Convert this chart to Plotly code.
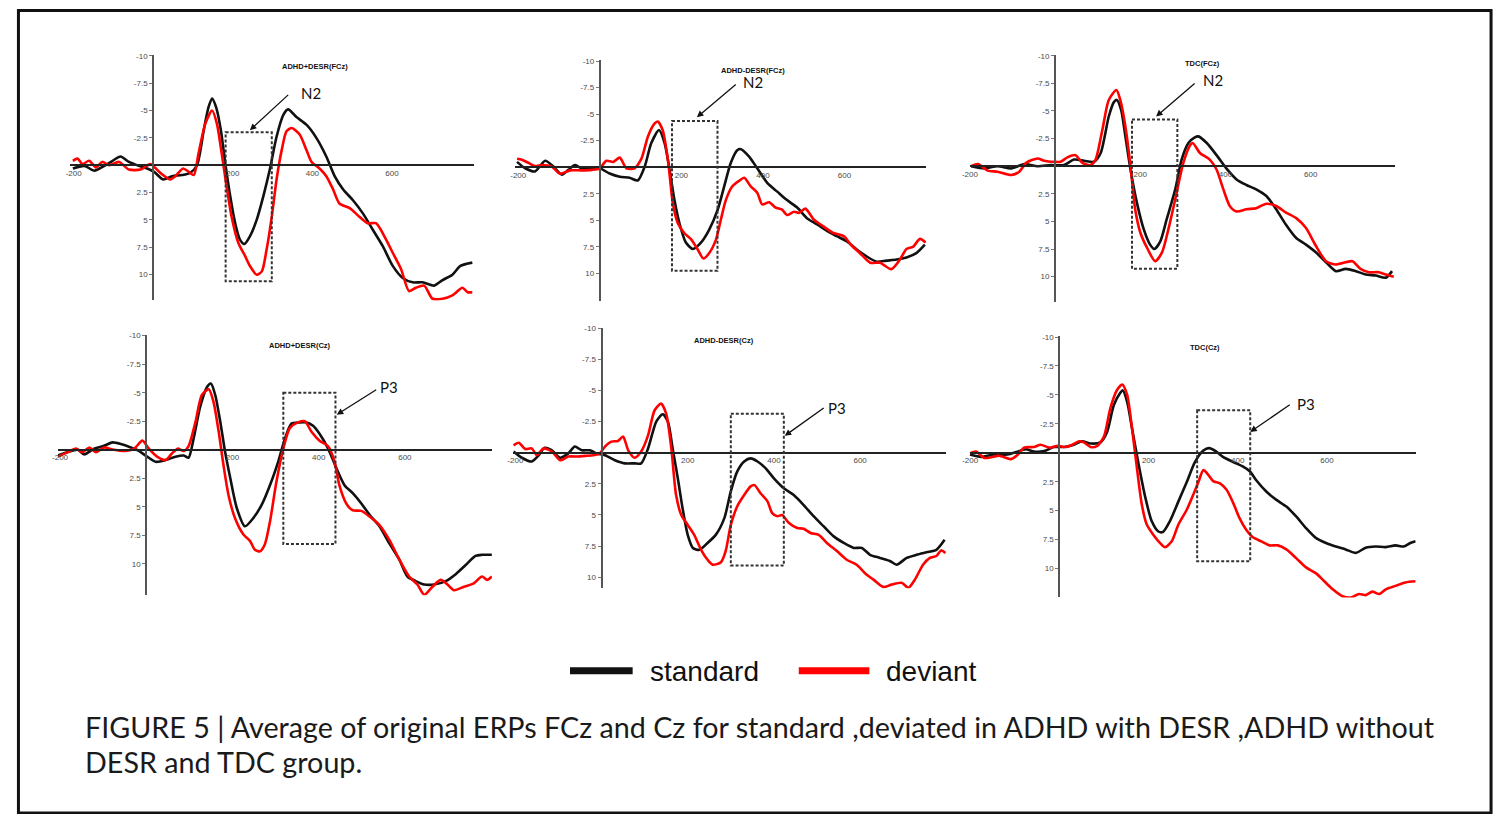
import plotly.graph_objects as go

W, H = 1501, 814

# ---------------- data (time in ms, amplitude in microvolts) ----------------
p1_std_t = [-202,-173,-148,-123,-102,-82,-61,-36,-15,2,25,47,72,93,110,127,139,148,158,170,181,192,206,218,229,243,260,277,293,310,327,339,360,385,410,435,456,477,502,527,552,577,602,627,652,677,706,727,752,772,802]
p1_std_v = [0.3,0.06,0.5,0.06,-0.4,-0.8,-0.3,0.06,0.3,0.6,1.3,1.0,0.9,0.7,0,-3.2,-5.3,-6.1,-5.3,-3.2,-0.2,2.5,5.3,6.8,7.2,6.5,5.0,2.8,0.4,-2.6,-4.6,-5.1,-4.4,-3.7,-2.5,-0.8,1.0,2.2,3.2,4.4,5.9,7.4,9.2,10.3,10.7,10.7,11.0,10.5,10.0,9.2,8.9]
p1_dev_t = [-202,-190,-178,-161,-144,-128,-111,-86,-61,-32,-7,18,43,56,75,89,102,114,131,148,160,172,183,197,214,231,243,260,273,285,298,310,323,335,348,368,385,398,418,435,452,468,493,518,539,560,581,602,623,643,660,681,702,727,752,777,790,802]
p1_dev_v = [-0.4,-0.6,-0.1,-0.4,0.2,-0.3,0,-0.3,0.4,0.4,-0.1,0.7,1.3,1.0,0.3,0.6,0.9,-1.1,-3.8,-5.0,-3.8,-1.1,1.6,4.7,7.1,8.3,9.2,10.0,9.7,7.7,4.7,1.3,-1.4,-3.1,-3.4,-2.8,-1.4,-0.3,0.3,1.0,2.2,3.5,3.9,4.7,5.3,5.3,6.5,8.0,9.5,11.5,11.2,11.0,12.2,12.2,11.9,11.2,11.6,11.6]

p2_std_t = [-203,-183,-159,-134,-114,-93,-77,-61,-41,-20,0,24,49,73,93,110,126,145,159,171,183,195,211,228,248,268,289,305,321,337,346,366,386,411,435,459,484,508,533,557,581,606,630,654,679,703,728,752,776,797]
p2_std_v = [-0.5,0.1,0.4,-0.6,-0.06,0.7,0.25,-0.2,0.2,0.1,0.1,0.6,0.9,1.0,1.25,-0.06,-2.25,-3.5,-2.25,0.25,3.1,5.25,7.1,7.7,7.1,5.9,4.0,1.8,-0.4,-1.6,-1.7,-1.0,0.1,1.5,2.3,3.1,3.8,4.8,5.4,6.0,6.5,7.0,7.75,8.4,8.9,8.8,8.7,8.5,8.1,7.3]
p2_dev_t = [-203,-191,-175,-159,-142,-118,-98,-73,-45,-20,0,16,33,49,65,85,102,118,134,142,154,167,179,191,207,224,240,254,268,285,297,309,325,341,354,370,386,398,415,431,447,459,476,488,504,524,549,573,598,618,638,663,687,715,736,752,768,785,799]
p2_dev_v = [-0.8,-0.7,-0.4,-0.1,-0.2,-0.06,0.6,0.3,0.3,0.25,0.1,-0.6,-0.5,-0.9,0.1,0.1,-0.8,-2.9,-4.1,-4.3,-3.5,-0.7,3.4,5.25,6.2,6.8,7.75,8.6,8.1,6.8,4.9,3.1,1.8,1.3,1.0,1.8,2.4,3.5,3.3,3.8,4.0,4.5,4.2,4.3,3.9,4.9,5.6,6.2,6.5,7.4,8.1,9.0,9.0,9.6,8.7,7.7,7.5,6.75,7.1]

p3_std_t = [-197,-166,-135,-103,-72,-41,-10,21,44,68,91,107,126,138,145,155,165,177,192,208,223,233,247,262,282,297,313,328,336,356,379,402,426,449,472,496,519,542,566,589,612,636,659,682,706,729,753,776,791]
p3_std_v = [0,0.2,0,0.2,-0.2,0,-0.1,-0.1,-0.6,-0.5,-0.4,-1.2,-4.5,-5.8,-6.0,-5.1,-2.7,0.3,3.3,5.7,7.1,7.5,6.8,4.8,2.1,-0.6,-2.1,-2.6,-2.7,-2.1,-1.0,0.2,1.2,1.7,2.1,2.7,3.9,5.3,6.5,7.1,7.8,8.7,9.5,9.3,9.5,9.8,9.9,10.1,9.5]
p3_dev_t = [-197,-181,-158,-135,-103,-84,-68,-41,-26,-2,13,29,48,64,83,95,111,126,144,153,165,177,188,200,216,235,251,266,282,301,317,323,340,363,379,395,410,426,449,472,496,519,542,566,589,612,636,659,682,698,717,737,760,776,795]
p3_dev_v = [0,-0.2,0.4,0.5,0.8,0.5,-0.3,-0.7,-0.5,-0.4,-0.4,-0.8,-1.0,-0.3,-0.1,-0.6,-3.3,-6.0,-6.9,-6.0,-3.6,0,3.9,6.0,7.4,8.6,7.8,5.7,3.0,-0.3,-1.9,-2.1,-1.2,-0.6,0.3,2.1,3.6,4.1,3.9,3.8,3.4,3.6,4.2,4.7,5.6,7.2,8.6,8.9,8.7,8.6,9.3,9.6,9.6,9.8,10.0]

p4_std_t = [-205,-182,-159,-144,-121,-98,-78,-59,-36,-17,2,22,45,68,87,98,110,125,141,150,160,172,183,195,210,229,248,268,287,306,322,337,356,372,387,402,422,441,460,479,499,518,541,564,587,606,625,645,668,695,718,741,764,779,802]
p4_std_v = [0.5,0.2,0,0.4,-0.1,-0.35,-0.65,-0.5,-0.2,0.1,0.6,1.05,0.9,0.6,0.5,0.7,-1.0,-3.75,-5.5,-5.8,-4.8,-2.4,0.2,2.5,5.1,6.7,6.0,4.8,3.1,1.05,-1.0,-2.3,-2.4,-2.4,-2.1,-1.4,-0.1,1.6,3.1,3.8,4.7,5.7,6.7,8.2,9.6,11.1,11.5,11.8,11.8,11.5,10.9,10.1,9.3,9.2,9.2]
p4_dev_t = [-205,-182,-163,-148,-132,-117,-98,-75,-52,-28,-9,6,25,45,60,73,87,98,114,129,145,156,168,179,191,206,225,241,252,264,275,287,302,318,333,352,368,383,402,422,437,448,464,479,499,518,541,564,587,610,629,645,664,683,699,714,737,760,779,791,802]
p4_dev_v = [0.6,0.2,-0.1,0.2,-0.2,0.2,-0.2,0,0.1,-0.1,-0.8,-0.1,0.6,0.9,0.3,-0.1,0.1,-0.3,-2.4,-4.8,-5.3,-4.2,-1.6,1.3,4.0,6.0,7.4,8.0,8.75,8.9,8.3,6.3,2.8,-0.1,-1.9,-2.4,-2.5,-1.6,-0.8,-0.3,1.05,3.1,4.7,5.3,5.35,5.85,6.6,7.9,9.6,11.1,11.8,12.7,12.0,11.4,11.8,12.3,12.0,11.7,11.1,11.4,11.1]

p5_std_t = [-204,-185,-162,-146,-132,-115,-96,-77,-62,-46,-27,-12,8,31,54,77,92,108,127,142,154,165,177,188,200,212,227,246,265,285,300,315,331,346,362,381,400,423,446,469,492,515,538,562,585,604,623,646,669,685,708,731,754,777,796]
p5_std_v = [-0.1,0.4,0.7,0.2,-0.4,-0.2,0.4,0.05,-0.5,-0.2,-0.2,0.05,0.2,0.6,0.85,0.85,0.85,-0.35,-2.5,-3.1,-2.5,-0.35,2.05,4.45,6.6,7.65,7.8,7.25,6.6,5.25,3.1,1.5,0.7,0.45,0.7,1.25,2.05,2.85,3.4,4.2,5.1,5.9,6.7,7.25,7.65,7.65,8.2,8.45,8.7,9.0,8.45,8.2,8.0,7.8,7.0]
p5_dev_t = [-204,-192,-177,-162,-150,-135,-115,-96,-77,-54,-38,-19,-4,8,23,38,50,62,77,92,108,123,138,150,162,173,185,200,215,231,246,258,277,288,300,315,331,346,355,369,385,396,408,419,435,454,469,485,504,523,546,569,592,612,631,654,673,696,712,727,746,762,777,788,798]
p5_dev_v = [-0.6,-0.8,-0.3,-0.35,0.2,-0.35,-0.1,0.6,0.3,0.3,0.25,0.2,0.05,-0.5,-0.9,-0.95,-1.3,-0.2,0.4,-0.1,-1.4,-3.4,-3.95,-3.15,-0.35,3.4,5.0,5.8,6.6,7.8,8.6,9.0,8.8,7.9,5.8,4.3,3.4,2.7,2.6,3.25,3.9,4.85,5.1,5.0,5.65,6.05,6.1,6.45,6.6,7.25,7.9,8.6,9.0,9.7,10.2,10.8,10.6,10.45,10.85,10.2,9.0,8.45,8.3,7.85,8.05]

p6_std_t = [-201,-175,-146,-116,-94,-75,-57,-34,-12,10,33,51,70,92,107,122,137,142,152,163,178,193,207,222,232,248,267,286,304,323,336,352,367,390,412,427,442,464,486,509,531,553,575,598,620,642,665,687,709,732,754,772,787,799]
p6_std_v = [0.15,0.35,0.15,0.15,-0.1,-0.3,-0.1,-0.15,-0.5,-0.5,-0.7,-1.0,-0.8,-0.9,-1.8,-4.1,-5.2,-5.4,-4.4,-2.1,1.05,3.9,5.9,6.8,6.85,5.9,4.2,2.5,0.8,-0.2,-0.4,-0.1,0.35,0.8,1.2,1.6,2.4,3.35,4.05,4.65,5.5,6.5,7.35,7.8,8.1,8.35,8.65,8.2,8.1,8.15,8.0,8.1,7.8,7.65]
p6_dev_t = [-201,-187,-168,-149,-135,-109,-94,-79,-57,-42,-23,-4,14,29,44,55,70,85,100,114,129,141,152,163,174,185,196,211,226,237,252,267,286,300,312,323,334,345,360,375,390,404,419,434,453,471,490,509,531,553,575,594,613,635,654,672,687,702,717,732,754,776,799]
p6_dev_v = [0.05,-0.1,0.45,0.35,0.25,0.55,0.2,-0.45,-0.5,-0.7,-0.45,-0.6,-0.5,-0.7,-1.0,-0.9,-0.5,-0.6,-1.4,-3.8,-5.4,-5.9,-5.0,-2.1,1.35,4.5,6.2,7.1,7.8,8.15,7.65,6.2,4.9,3.65,2.5,1.5,1.9,2.45,2.65,3.2,4.35,5.65,6.65,7.3,7.65,8.0,8.0,8.35,9.1,9.9,10.4,11.1,11.8,12.4,12.5,12.2,12.3,12.0,12.2,11.8,11.5,11.2,11.1]

titles = ["ADHD+DESR(FCz)", "ADHD-DESR(FCz)", "TDC(FCz)", "ADHD+DESR(Cz)", "ADHD-DESR(Cz)", "TDC(Cz)"]
series_names = ["standard", "deviant"]
x_tick_vals = [-200, 200, 400, 600]
x_tick_text = ["-200", "200", "400", "600"]
y_tick_vals = [-10, -7.5, -5, -2.5, 2.5, 5, 7.5, 10]
y_tick_text = ["-10", "-7.5", "-5", "-2.5", "2.5", "5", "7.5", "10"]
caption_lines = ["FIGURE 5 | Average of original ERPs FCz and Cz for standard ,deviated in ADHD with DESR ,ADHD without",
                 "DESR and TDC group."]

std_data = [(p1_std_t, p1_std_v), (p2_std_t, p2_std_v), (p3_std_t, p3_std_v),
            (p4_std_t, p4_std_v), (p5_std_t, p5_std_v), (p6_std_t, p6_std_v)]
dev_data = [(p1_dev_t, p1_dev_v), (p2_dev_t, p2_dev_v), (p3_dev_t, p3_dev_v),
            (p4_dev_t, p4_dev_v), (p5_dev_t, p5_dev_v), (p6_dev_t, p6_dev_v)]

# ---------------- layout geometry (pixels) ----------------
# ox, oy: pixel of (t=0, v=0); sx, sy: px per ms / px per uV
geom = [
    dict(ox=146.0, oy=162.0, sx=0.400, sy=11.00, t0=-208, t1=805, vmax=12.36),
    dict(ox=595.0, oy=164.0, sx=0.410, sy=10.67, t0=-207, t1=800, vmax=12.56),
    dict(ox=1052.7, oy=163.0, sx=0.4283, sy=11.10, t0=-200, t1=798, vmax=12.3),
    dict(ox=139.0, oy=448.0, sx=0.4333, sy=11.47, t0=-205, t1=802, vmax=12.75),
    dict(ox=596.7, oy=451.0, sx=0.4333, sy=12.50, t0=-206, t1=800, vmax=10.9),
    dict(ox=1057.0, oy=451.0, sx=0.4483, sy=11.63, t0=-201, t1=799, vmax=12.5),
]
VTOP = -10.05

# component windows (box t0, t1, v0, v1), arrows (head t, v, tail t, v), label position
components = [
    dict(box=(182, 298, -3.0, 10.6), arrow=(243, -3.2, 343, -6.55), label="N2", lpos=(397, -6.6), tpos=(406, -9.06)),
    dict(box=(177, 288.5, -4.34, 9.75), arrow=(238, -4.7, 337, -7.9), label="N2", lpos=(376, -8.0), tpos=(376, -9.1)),
    dict(box=(180.5, 287, -4.23, 9.28), arrow=(237, -4.5, 331, -7.6), label="N2", lpos=(370, -7.8), tpos=(347, -9.3)),
    dict(box=(318, 439, -5.0, 8.26), arrow=(442, -3.08, 537, -5.35), label="P3", lpos=(564, -5.5), tpos=(356, -9.1)),
    dict(box=(300, 423, -3.14, 9.06), arrow=(425, -1.36, 519, -3.68), label="P3", lpos=(546, -3.6), tpos=(285, -9.0)),
    dict(box=(309, 428, -3.67, 9.37), arrow=(428, -1.8, 520, -4.24), label="P3", lpos=(552, -4.24), tpos=(326, -9.1)),
]

AX_FONT = dict(family="Liberation Sans, Arial, sans-serif", size=8, color="#4a4a4a")
CAP_FONT = "Lato, Open Sans, sans-serif"

fig = go.Figure()
layout = dict(
    width=W, height=H,
    margin=dict(l=0, r=0, t=0, b=0),
    paper_bgcolor="white", plot_bgcolor="white",
    showlegend=False,
)
shapes = []
annotations = []

for i in range(6):
    g = geom[i]
    k = "" if i == 0 else str(i + 1)
    xname, yname = "x" + k, "y" + k
    xd = [(g["ox"] + g["t0"] * g["sx"]) / W, (g["ox"] + g["t1"] * g["sx"]) / W]
    yd = [1 - (g["oy"] + g["vmax"] * g["sy"]) / H, 1 - (g["oy"] + VTOP * g["sy"]) / H]
    layout["xaxis" + k] = dict(
        domain=xd, range=[g["t0"], g["t1"]], anchor="free", position=1 - g["oy"] / H,
        showgrid=False, zeroline=False, showline=True, linecolor="#222", linewidth=1.6,
        tickvals=x_tick_vals, ticktext=x_tick_text, ticks="", tickfont=AX_FONT,
    )
    layout["yaxis" + k] = dict(
        domain=yd, range=[g["vmax"], VTOP], anchor="free", position=g["ox"] / W,
        showgrid=False, zeroline=False, showline=True, linecolor="#555", linewidth=2,
        tickvals=y_tick_vals, ticktext=y_tick_text, ticks="outside", ticklen=3,
        tickcolor="#777", tickwidth=1, tickfont=AX_FONT,
    )
    t, v = std_data[i]
    fig.add_trace(go.Scatter(x=t, y=v, mode="lines", name=series_names[0], xaxis=xname, yaxis=yname,
                             line=dict(color="#111111", width=2.6, shape="spline", smoothing=0.7)))
    t, v = dev_data[i]
    fig.add_trace(go.Scatter(x=t, y=v, mode="lines", name=series_names[1], xaxis=xname, yaxis=yname,
                             line=dict(color="#ff0000", width=2.6, shape="spline", smoothing=0.7)))

    c = components[i]
    b0, b1, bv0, bv1 = c["box"]
    shapes.append(dict(type="rect", xref=xname, yref=yname, x0=b0, x1=b1, y0=bv0, y1=bv1,
                       line=dict(color="#333", width=2, dash="3px,2px"), fillcolor="rgba(0,0,0,0)"))
    ht, hv, tt, tv = c["arrow"]
    annotations.append(dict(x=ht, y=hv, xref=xname, yref=yname, ax=tt, ay=tv, axref=xname, ayref=yname,
                            text="", showarrow=True, arrowhead=2, arrowsize=1, arrowwidth=1.3,
                            arrowcolor="#111"))
    annotations.append(dict(x=c["lpos"][0], y=c["lpos"][1], xref=xname, yref=yname, text=c["label"],
                            showarrow=False, font=dict(family=CAP_FONT, size=15, color="#111")))
    annotations.append(dict(x=c["tpos"][0], y=c["tpos"][1], xref=xname, yref=yname,
                            text="<b>" + titles[i] + "</b>", showarrow=False,
                            font=dict(family="Liberation Sans, Arial, sans-serif", size=7.5, color="#111")))

# outer frame
shapes.append(dict(type="rect", xref="paper", yref="paper", x0=10.5 / W, x1=1491 / W, y0=1 - 813 / H, y1=1 - 6.5 / H,
                   line=dict(color="#111", width=3)))

# legend (drawn)
leg_y = 1 - 670 / H
shapes.append(dict(type="line", xref="paper", yref="paper", x0=565 / W, x1=628 / W, y0=leg_y, y1=leg_y,
                   line=dict(color="#111111", width=7)))
shapes.append(dict(type="line", xref="paper", yref="paper", x0=795 / W, x1=866 / W, y0=leg_y, y1=leg_y,
                   line=dict(color="#ff0000", width=7)))
leg_font = dict(family="Liberation Sans, Arial, sans-serif", size=28, color="#111")
annotations.append(dict(x=643 / W, y=1 - 671 / H, xref="paper", yref="paper", xanchor="left", yanchor="middle",
                        text=series_names[0], showarrow=False, font=leg_font))
annotations.append(dict(x=881 / W, y=1 - 671 / H, xref="paper", yref="paper", xanchor="left", yanchor="middle",
                        text=series_names[1], showarrow=False, font=leg_font))

# caption (two lines)
for j, (line_text, ypx) in enumerate(zip(caption_lines, [727, 762])):
    annotations.append(dict(x=75 / W, y=1 - ypx / H, xref="paper", yref="paper", xanchor="left", yanchor="middle",
                            align="left", text=line_text, showarrow=False,
                            font=dict(family=CAP_FONT, size=28.7, color="#1a1a1a")))

layout["shapes"] = shapes
layout["annotations"] = annotations
fig.update_layout(**layout)
fig.write_html("out.html", config={"displayModeBar": False},
               post_script="document.body.style.margin='0';document.body.style.overflow='hidden';")
